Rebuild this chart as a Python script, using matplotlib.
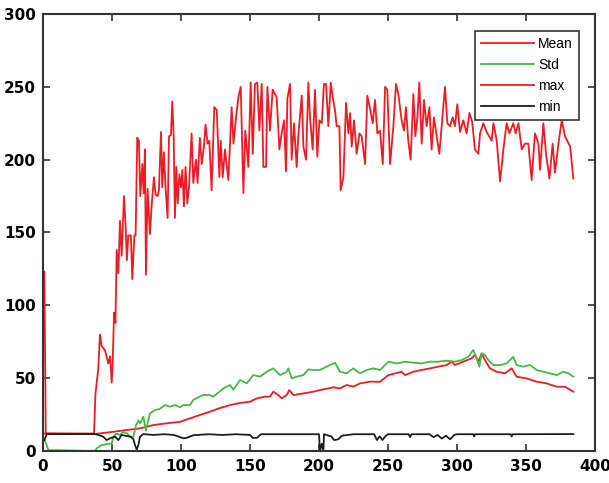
import matplotlib
matplotlib.use("Agg")
import matplotlib.pyplot as plt

# ------------------------------------------------------------
# data (generation -> fitness)
# ------------------------------------------------------------
max_pts = [(1, 123), (2, 12), (37, 12), (38, 39), (40, 56), (41.3, 80), (42.5, 72), (45, 69),
           (47.3, 60), (48.6, 65), (49.8, 47), (50.5, 60), (51.5, 95), (52.5, 88), (53.4, 138),
           (54.6, 122), (55.8, 158), (57, 134), (58.7, 175), (59.9, 154), (60.8, 131), (61.8, 148),
           (63.7, 148), (64.7, 118), (66.2, 148), (67.1, 148), (68.3, 215), (69.5, 213), (70.5, 175),
           (72, 197), (72.9, 177), (73.9, 207), (74.6, 121), (75.8, 180), (77.5, 149), (78.7, 168),
           (80.4, 188), (81.6, 176), (83.1, 175), (84, 179), (85.5, 219), (86.4, 181), (87.6, 205),
           (88.9, 179), (90.3, 160), (91.3, 216), (92.7, 217), (93.7, 240), (94.7, 216), (95.6, 160),
           (96.6, 195), (97.6, 170), (98.8, 190), (100, 181), (101, 193), (102.1, 168), (103.3, 195),
           (104.6, 170), (105.8, 181), (107.7, 218), (108.9, 184), (110.8, 200), (112, 184),
           (113.7, 215), (115, 197), (116.6, 209), (117.8, 224), (119.3, 211), (120.5, 213),
           (122.2, 179), (124.1, 236), (125.9, 234), (127.8, 188), (128.8, 213), (130.2, 188),
           (131.9, 207), (134.3, 186), (136.7, 236), (138, 211), (139.9, 229), (141.6, 243),
           (143.3, 250), (145.2, 177), (146.6, 220), (148.8, 195), (150.5, 253), (152, 204),
           (153.6, 252), (155.3, 253), (156.8, 220), (158.5, 252), (159.7, 195), (161.6, 195),
           (162.6, 250), (164.5, 220), (166.4, 248), (168.1, 245), (169.3, 243), (171.3, 207),
           (172.9, 218), (174.7, 227), (176.1, 192), (177.1, 242), (179, 252), (180.2, 200),
           (181.9, 225), (183.8, 195), (185, 216), (187.5, 244), (188.7, 209), (190.6, 200),
           (192.3, 253), (193.5, 229), (195.4, 207), (197.1, 248), (198.8, 202), (200.3, 227),
           (202, 225), (203.6, 252), (205.1, 252), (206.8, 223), (208.5, 253), (209.9, 243),
           (211.6, 234), (212.8, 223), (214.8, 223), (215.7, 179), (217.7, 188), (219.6, 239),
           (221.3, 218), (222.5, 232), (223.7, 209), (225.4, 227), (227.3, 204), (229.3, 218),
           (230.9, 216), (233.4, 197), (235, 244), (237, 235), (238.9, 225), (240.6, 241),
           (242.3, 218), (244.2, 220), (246.2, 197), (247.9, 250), (249.5, 248), (251.5, 197),
           (253.9, 223), (255.8, 252), (257.5, 245), (259.9, 227), (261.6, 220), (263, 236),
           (264.7, 213), (266.4, 200), (268.4, 245), (269.8, 216), (271.3, 229), (272.7, 253),
           (274.4, 211), (276.1, 241), (278, 223), (280, 236), (281.6, 207), (283.3, 229),
           (285.3, 216), (287.2, 204), (288.9, 223), (291.3, 250), (293, 225), (294.9, 223),
           (296.9, 229), (298.5, 223), (300.2, 238), (302.2, 219), (304.6, 227), (307, 218),
           (309, 232), (311, 226), (313, 207), (315.5, 204), (316.7, 218), (319.1, 225),
           (321.5, 219), (325.1, 213), (326.4, 225), (328.8, 213), (331.2, 185), (333.6, 207),
           (336, 225), (338, 218), (340.8, 225), (342.5, 218), (344.5, 225), (346.9, 207),
           (349.3, 211), (351.7, 211), (354.1, 186), (356.5, 218), (359, 211), (360.2, 193),
           (362.6, 225), (364.5, 204), (367, 187), (369.3, 211), (371, 191), (373.5, 211),
           (375.9, 227), (378.3, 216), (382, 209), (384.3, 187)]

mean_pts = [(1, 12), (37, 11.6), (51, 13.2), (60.6, 14.4), (70.3, 15.5), (80, 17.8), (89.6, 19),
            (99.3, 20), (106.5, 22.4), (113.8, 24.7), (121, 27), (128.3, 29.5), (135.5, 31.5),
            (142.8, 33), (150, 33.8), (154.9, 36.1), (160.9, 37.3), (164.5, 37.3), (166.9, 40.7),
            (170.6, 38.4), (173, 36.1), (176.6, 38.4), (178.5, 41.8), (181.4, 38.4), (188.7, 39.5),
            (195.9, 40.7), (203.2, 42.3), (210.4, 43.7), (215.2, 43), (220.1, 45.3), (224.9, 44.1),
            (229.7, 46.4), (237, 47.6), (244.2, 47.5), (250.3, 52.1), (256.3, 53.5), (259.9, 54.4),
            (262.3, 52.1), (268.4, 54.4), (274.4, 55.6), (280.4, 56.7), (286.5, 57.9), (292.5, 59),
            (296.1, 61.3), (298.5, 59), (304.6, 61.3), (310.6, 63.6), (313, 65.9), (315.5, 61.3),
            (317.9, 67), (320.3, 62.4), (323.9, 56.7), (328.7, 54.4), (334.8, 53.3), (339.6, 56.7),
            (343.2, 51), (350.5, 49.8), (357.7, 47.6), (365, 46.4), (372.2, 44.1), (378.3, 44.1),
            (384.3, 40.7)]

std_pts = [(1, 8), (2.2, 5), (3.9, 0.6), (37.7, 0), (38.9, 1.8), (42.5, 4), (49.8, 5.2), (51, 9.8),
           (53.4, 12), (55.8, 11), (58.2, 13), (61.1, 12), (63, 9.8), (65.5, 9.8), (67.4, 17.8),
           (69.1, 21), (70.3, 19), (72.7, 23.5), (74.6, 14), (77.5, 25.8), (81.2, 28), (84.8, 29),
           (88.4, 31.5), (92, 30.4), (95.7, 31.5), (99.3, 30), (101.7, 31.5), (106.5, 31.5),
           (108.9, 35), (113.8, 37.5), (116.2, 38.4), (121, 38.4), (123.4, 37.2), (128.3, 41),
           (130.7, 43), (135.5, 45.3), (137.9, 42), (142.8, 48.7), (147.6, 46.4), (152.4, 52.1),
           (157.3, 51), (162.1, 54.4), (166.9, 56.7), (171.8, 52.1), (176.6, 54.4), (177.8, 56.7),
           (180.2, 49.8), (183.8, 51), (188.7, 52.1), (192.3, 56), (195.9, 55.6), (200.7, 55.6),
           (205.6, 57.9), (211.6, 60.6), (215.2, 54.4), (220.1, 53.3), (224.9, 56.7), (229.7, 53.3),
           (234.6, 55.6), (239.4, 56.7), (244.2, 55.6), (250.3, 61.3), (256.3, 60.1), (262.3, 61.3),
           (268.4, 60.6), (274.4, 60.1), (280.4, 61.3), (286.5, 61.3), (292.5, 62), (298.5, 61.3),
           (303.4, 62.4), (308.2, 64.7), (311.8, 69.3), (314.2, 63.6), (316.2, 57.9), (317.9, 67),
           (320.3, 65.9), (322.7, 62.4), (326.3, 59), (331.2, 59), (336, 60.1), (340.8, 64.7),
           (343.2, 59), (348.1, 57.9), (352.9, 59), (357.7, 55.6), (362.6, 54.4), (367.4, 53.3),
           (372.2, 52.1), (377.1, 54.4), (380.7, 53.3), (384.3, 51)]

min_pts = [(1, 7.5), (2.7, 11.6), (37.7, 11.6), (40, 11), (43.7, 9.8), (46.1, 7.5), (48.6, 8.7),
           (52.2, 9.8), (54.6, 7.5), (57, 11), (60.6, 10.3), (63.5, 9.8), (65.5, 8), (66.7, 4),
           (67.9, 1), (69.1, 4), (70.3, 9.8), (72.7, 11.6), (80, 11), (88, 11.5), (95, 11),
           (101.7, 8.7), (104, 9), (108.9, 10.8), (120, 11.5), (130, 11), (140, 11.5), (150, 11),
           (152, 9), (155, 9), (158, 11.5), (170, 11.5), (185, 11.5), (200, 11.5), (200.7, 0),
           (202, 5), (203.2, 0), (203.6, 11.5), (209, 10), (211, 7.5), (214, 8), (216.5, 10.5),
           (225, 11.5), (240, 11.5), (242, 7.5), (244, 10), (246, 7.5), (248, 10), (250, 11.5),
           (265, 11.5), (266, 9.5), (267, 11.5), (280, 11.5), (283, 9.5), (286, 11), (289, 8.5),
           (292, 10.5), (295, 8), (298, 11), (300, 11.5), (311.8, 11.5), (312.5, 10), (313, 11.5),
           (339, 11.5), (339.6, 10), (340.5, 11.5), (384.3, 11.6)]

labels = ["Mean", "Std", "max", "min"]
RED = "#ec1c24"
GREEN = "#45b845"
BLACK = "#1e1e1e"

# ------------------------------------------------------------
fig = plt.figure(figsize=(6.09, 4.83), dpi=100)
ax = fig.add_axes([0.0706, 0.0663, 0.9064, 0.9047])

series = [(mean_pts, RED), (std_pts, GREEN), (max_pts, RED), (min_pts, BLACK)]
for (pts, col), lab in zip(series, labels):
    xs = [p[0] for p in pts]
    ys = [p[1] for p in pts]
    ax.plot(xs, ys, color=col, linewidth=1.3, label=lab)

ax.set_xlim(0, 400)
ax.set_ylim(0, 300)
ax.set_xticks(range(0, 401, 50))
ax.set_yticks(range(0, 301, 50))
ax.tick_params(direction="in", length=5, width=1.2, top=True, right=True,
               labelsize=11, colors="#333333", labelcolor="black")
ax.tick_params(axis="x", pad=6)
ax.tick_params(axis="y", pad=5)
for lbl in ax.get_xticklabels() + ax.get_yticklabels():
    lbl.set_fontweight("bold")
    lbl.set_family("DejaVu Sans")
for s in ax.spines.values():
    s.set_color("#333333")
    s.set_linewidth(1.5)

leg = ax.legend(loc="upper right", bbox_to_anchor=(0.971, 0.961), fancybox=False,
                framealpha=1, edgecolor="#333333", borderaxespad=0,
                prop={"family": "Liberation Sans", "size": 10},
                handlelength=3.8, labelspacing=0.5, borderpad=0.45, handletextpad=0.3)
leg.get_frame().set_linewidth(1.2)

fig.savefig("out.png", dpi=100)
